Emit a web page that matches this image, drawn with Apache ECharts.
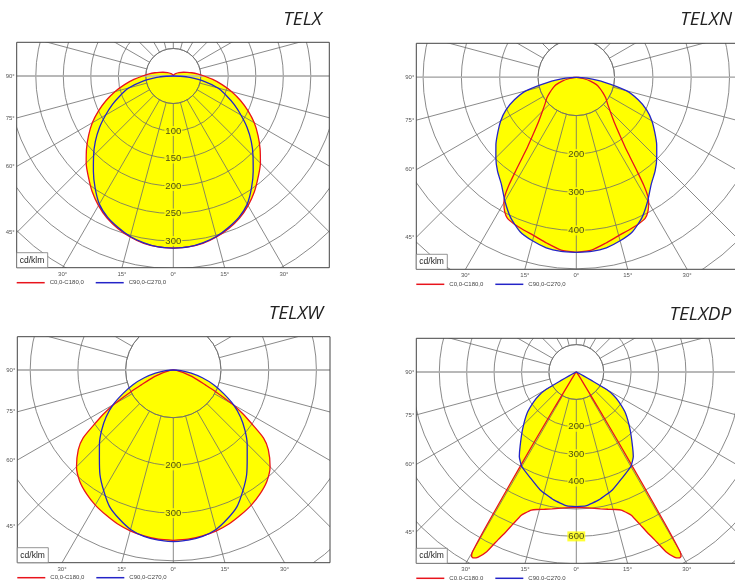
<!DOCTYPE html>
<html><head><meta charset="utf-8">
<script src="https://cdn.jsdelivr.net/npm/echarts@6/dist/echarts.min.js"></script>
<style>
html,body{margin:0;padding:0;overflow:hidden;background:#fff;width:735px;height:580px;position:relative}
.q{position:absolute}
</style></head>
<body>
<div id="q1" class="q" style="left:0;top:0;width:367px;height:290px"></div>
<div id="q2" class="q" style="left:367px;top:0;width:368px;height:290px"></div>
<div id="q3" class="q" style="left:0;top:290px;width:367px;height:290px"></div>
<div id="q4" class="q" style="left:367px;top:290px;width:368px;height:290px"></div>
<script>
// ---------- DATA (gamma in degrees, intensity in cd/klm) ----------
const LEGEND_NAMES = ['C0,0-C180,0', 'C90,0-C270,0'];
const UNIT_LABEL = 'cd/klm';
const SIDE_ANGLES = [90, 75, 60, 45];
const SIDE_LABELS = ['90°', '75°', '60°', '45°'];
const BOTTOM_ANGLES = [-30, -15, 0, 15, 30];
const BOTTOM_LABELS = ['30°', '15°', '0°', '15°', '30°'];

// TELX
const telxC0Gamma = [0,5,10,15,20,25,30,35,40,45,50,55,60,65,70,75,80,85,90,95,100,105,110,120,135,150,165,180];
const telxC0 = [313,312,309,303,295,285,272,257,240,224,206,188,170,150,130,110,90,72,56,44,34,26,20,12,6,3,1,0];
const telxC90Gamma = [0,5,10,15,20,25,30,35,40,45,50,55,60,65,70,75,80,85,88,90];
const telxC90 = [313,312,308,302,293,283,269,248,226,205,185,164,142,122,102,84,58,30,12,0];
const telxRings = [100,150,200,250,300];

// TELXN
const telxnC0Gamma = [0,5,10,15,20,23,26,28,30,31,32,33,34,35,37,40,45,50,55,60,65,70,75,80,85,90];
const telxnC0 = [457,453,440,428,420,416,410,398,378,363,333,288,250,222,188,155,125,106,94,80,68,56,38,18,6,0];
const telxnC90Gamma = [0,5,10,15,20,25,30,35,40,45,50,55,60,65,70,75,80,85,90];
const telxnC90 = [457,456,452,442,429,405,373,341,320,297,274,250,228,203,172,135,75,28,0];
const telxnRings = [200,300,400];

// TELXW
const telxwC0Gamma = [0,5,10,15,20,25,30,35,40,45,50,53,56,58,60,63,65,70,75,80,85,90];
const telxwC0 = [357,356,353,349,343,335,327,317,305,287,260,237,194,170,142,98,75,45,22,10,4,0];
const telxwC90Gamma = [0,5,10,15,20,25,30,35,40,45,50,55,60,65,70,75,80,85,90];
const telxwC90 = [360,358,354,346,332,316,292,268,241,219,196,172,146,116,90,63,38,16,0];
const telxwRings = [200,300];

// TELXDP
const telxdpC0Gamma = [0,5,10,13,16,18,20,21,22.5,24,25,26.5,28,29,29.6,30,30.3,30.6,31,31.5,32.5,35,45,60,90];
const telxdpC0 = [494,498,507,514,522,530,548,560,598,645,675,733,766,776,774,758,650,480,300,150,50,15,4,1,0];
const telxdpC90Gamma = [0,4,10,17,23,30,34,37,43,50,55,58,60,61,62,64,70,80,90];
const telxdpC90 = [491,490,474,450,423,398,372,341,288,235,190,160,128,65,30,10,3,1,0];
const telxdpRings = [200,300,400,600];

// ---------- LAYOUT ----------
const panels = [
  {id:'q1', w:367, h:290, title:'TELX', titleRight:45.3, titleCy:21,
   box:{l:16.7,t:42.3,r:329.3,b:267.7}, center:[173.3,76], px:0.55, step:50, inner:50, max:500,
   c0:[telxC0Gamma, telxC0], c90:[telxC90Gamma, telxC90], rings:telxRings, smooth:0.3},
  {id:'q2', w:368, h:290, title:'TELXN', titleRight:3, titleCy:20.7,
   box:{l:49.3,t:43.3,r:369.3,b:269.3}, center:[209.3,77.3], px:0.383, step:100, inner:100, max:700,
   c0:[telxnC0Gamma, telxnC0], c90:[telxnC90Gamma, telxnC90], rings:telxnRings, smooth:0.2},
  {id:'q3', w:367, h:290, title:'TELXW', titleRight:43.7, titleCy:25,
   box:{l:17.3,t:46.7,r:330,b:272.7}, center:[173.3,80], px:0.477, step:100, inner:100, max:600,
   c0:[telxwC0Gamma, telxwC0], c90:[telxwC90Gamma, telxwC90], rings:telxwRings, smooth:0.25},
  {id:'q4', w:368, h:290, title:'TELXDP', titleRight:3.7, titleCy:25.7,
   box:{l:49.3,t:48.3,r:369.3,b:273.3}, center:[209.3,82], px:0.274, step:100, inner:100, max:1000,
   c0:[telxdpC0Gamma, telxdpC0], c90:[telxdpC90Gamma, telxdpC90], rings:telxdpRings, smooth:0.15}
];

const GRID = '#6c6c6c';
const RED = '#e8141c';
const BLUE = '#2424c8';
const YELLOW = '#ffff00';
const SMALL_FONT = '6px "Liberation Sans", Arial, sans-serif';

function curveData(gammas, vals) {
  const right = gammas.map((g, i) => [vals[i], g]);
  const left = gammas.map((g, i) => [vals[i], 360 - g]).reverse();
  return right.concat(left);
}

function txt(text, x, y, align, vAlign, font, fill, z) {
  return {type:'text', z:z, silent:true,
    style:{text:text, x:x, y:y, font:font, fill:fill,
      align:align, textAlign:align, verticalAlign:vAlign, textVerticalAlign:vAlign}};
}

function build(p) {
  const el = document.getElementById(p.id);
  const chart = echarts.init(el, null, {renderer:'canvas', width:p.w, height:p.h});
  const cx = p.center[0], cy = p.center[1];
  const R = p.max * p.px, rIn = p.inner * p.px;
  const b = p.box, W = p.w, H = p.h;
  const rad = Math.PI / 180;
  const g = [];
  [[0,0,W,b.t],[0,b.b,W,H-b.b],[0,0,b.l,H],[b.r,0,W-b.r,H]].forEach(function(m){
    if (m[2] > 0 && m[3] > 0) g.push({type:'rect', z:50, silent:true,
      shape:{x:m[0], y:m[1], width:m[2], height:m[3]}, style:{fill:'#ffffff'}});
  });
  g.push({type:'rect', z:55, silent:true,
    shape:{x:b.l, y:b.t, width:b.r-b.l, height:b.b-b.t},
    style:{fill:'transparent', stroke:'#444444', lineWidth:1}});
  g.push({type:'rect', z:56, silent:true,
    shape:{x:b.l, y:b.b-15, width:31, height:15},
    style:{fill:'#ffffff', stroke:'#7a7a7a', lineWidth:0.8}});
  g.push(txt(UNIT_LABEL, b.l+3, b.b-7.3, 'left', 'middle', '8.5px "Liberation Sans", Arial, sans-serif', '#222', 57));
  SIDE_ANGLES.forEach(function(a, i){
    const y = a === 90 ? cy : cy + (cx - b.l) / Math.tan(a * rad);
    g.push(txt(SIDE_LABELS[i], b.l - 2, y, 'right', 'middle', SMALL_FONT, '#555', 57));
  });
  BOTTOM_ANGLES.forEach(function(a, i){
    const x = cx + Math.tan(a * rad) * (b.b - cy);
    g.push(txt(BOTTOM_LABELS[i], x, b.b + 6.5, 'center', 'middle', SMALL_FONT, '#555', 57));
  });

  const d0 = curveData(p.c0[0], p.c0[1]);
  const d90 = curveData(p.c90[0], p.c90[1]);
  const hidden = {axisLine:{show:false}, axisTick:{show:false}, axisLabel:{show:false}, splitLine:{show:false}, splitArea:{show:false}};

  chart.setOption({
    animation:false,
    backgroundColor:'transparent',
    title:{text:p.title, right:p.titleRight, top:p.titleCy - 11, padding:0, z:60,
      textStyle:{fontFamily:'"Open Sans", sans-serif', fontStyle:'italic', fontWeight:'normal', fontSize:19, color:'#222'}},
    legend:{data:LEGEND_NAMES, left:b.l, top:b.b + 12, padding:0, itemWidth:28, itemHeight:1.5,
      icon:'rect', itemGap:12, selectedMode:false, z:60,
      textStyle:{fontSize:6, color:'#444', fontFamily:'"Liberation Sans", Arial, sans-serif', padding:[0,0,0,0]}},
    polar:[{center:[cx, cy], radius:[rIn, R]}, {center:[cx, cy], radius:[0, R]}],
    radiusAxis:[
      Object.assign({}, hidden, {polarIndex:0, type:'value', min:p.inner, max:p.max, interval:p.step, z:3,
        splitLine:{show:true, lineStyle:{color:GRID, width:0.8}}}),
      Object.assign({}, hidden, {polarIndex:1, type:'value', min:0, max:p.max})
    ],
    angleAxis:[
      Object.assign({}, hidden, {polarIndex:0, type:'value', min:0, max:360, interval:15, startAngle:270, clockwise:false, z:3,
        axisLine:{show:true, lineStyle:{color:GRID, width:0.8}},
        splitLine:{show:true, lineStyle:{color:GRID, width:0.8}}}),
      Object.assign({}, hidden, {polarIndex:1, type:'value', min:0, max:360, startAngle:270, clockwise:false})
    ],
    tooltip:{show:false},
    series:[
      {type:'line', name:'fill0', coordinateSystem:'polar', polarIndex:1, data:d0, symbol:'none', smooth:p.smooth,
        lineStyle:{width:0, opacity:0}, areaStyle:{color:YELLOW, opacity:1}, z:1, silent:true},
      {type:'line', name:'fill90', coordinateSystem:'polar', polarIndex:1, data:d90, symbol:'none', smooth:p.smooth,
        lineStyle:{width:0, opacity:0}, areaStyle:{color:YELLOW, opacity:1}, z:1, silent:true},
      {type:'line', name:'h90', coordinateSystem:'polar', polarIndex:1, data:[[p.max, 90], [p.max, 270]], symbol:'none',
        lineStyle:{color:'#b5b5b5', width:1.5}, z:4, silent:true},
      {type:'line', name:LEGEND_NAMES[0], coordinateSystem:'polar', polarIndex:1, data:d0, symbol:'none', smooth:p.smooth,
        color:RED, lineStyle:{color:RED, width:1.3}, z:5, silent:true},
      {type:'line', name:LEGEND_NAMES[1], coordinateSystem:'polar', polarIndex:1, data:d90, symbol:'none', smooth:p.smooth,
        color:BLUE, lineStyle:{color:BLUE, width:1.3}, z:5, silent:true},
      {type:'scatter', name:'rings', coordinateSystem:'polar', polarIndex:1, data:p.rings.map(function(v){return [v, 0];}),
        symbolSize:1, itemStyle:{color:'rgba(0,0,0,0)'}, z:6, silent:true,
        label:{show:true, position:'inside', formatter:function(d){return String(d.value[0]);},
          fontSize:9.5, color:'#1a1a1a', fontFamily:'"Liberation Sans", Arial, sans-serif', backgroundColor:YELLOW, padding:[0,1]}}
    ],
    graphic:{elements:g}
  });
}
panels.forEach(build);
</script>
</body></html>
